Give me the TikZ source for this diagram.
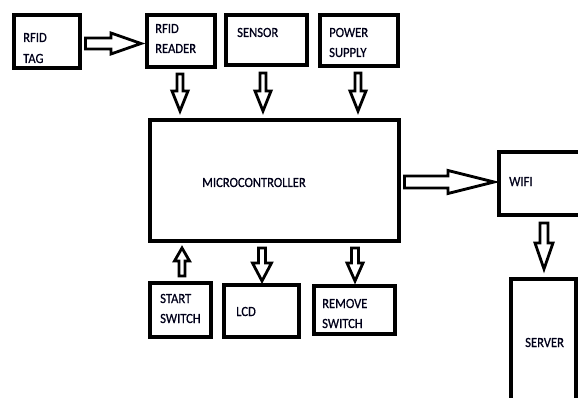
\documentclass[tikz,border=0pt]{standalone}
\usepackage{fontspec}
\setmainfont{Carlito}[FakeStretch=0.9,FakeBold=0.6]
\usetikzlibrary{calc}
\tikzset{
  box/.style n args={2}{draw, line width=4pt, minimum width=#1, minimum height=#2, inner sep=0pt},
  lbl/.style={anchor=base west, inner sep=0pt, text=black!90!blue, font=\fontsize{14}{14}\selectfont},
  barrow/.style n args={3}{line width=2.8pt, line join=miter, fill=white,
    to path={let \p1=(\tikztostart), \p2=(\tikztotarget),
      \n1={veclen(\x2-\x1,\y2-\y1)}, \n2={(\x2-\x1)/\n1}, \n3={(\y2-\y1)/\n1} in
      ({\x1-\n3*#1},{\y1+\n2*#1})
      -- ({\x2-\n2*#3-\n3*#1},{\y2-\n3*#3+\n2*#1})
      -- ({\x2-\n2*#3-\n3*#2},{\y2-\n3*#3+\n2*#2})
      -- (\tikztotarget)
      -- ({\x2-\n2*#3+\n3*#2},{\y2-\n3*#3-\n2*#2})
      -- ({\x2-\n2*#3+\n3*#1},{\y2-\n3*#3-\n2*#1})
      -- ({\x1+\n3*#1},{\y1-\n2*#1}) -- cycle}}
}
\begin{document}
\begin{tikzpicture}[x=1pt,y=-1pt]
\useasboundingbox (0,0) rectangle (578,398);
\clip (0,0) rectangle (578,398);
% boxes
\node[box={66pt}{53pt}] (tag) at (47,41.5) {};
\node[box={68pt}{52pt}] (reader) at (181,41) {};
\node[box={81pt}{50pt}] (sensor) at (266.5,40) {};
\node[box={78pt}{51pt}] (power) at (359,40.5) {};
\node[box={249pt}{121pt}] (mcu) at (274.5,180.5) {};
\node[box={101pt}{63pt}] (wifi) at (549.5,183.5) {};
\node[box={61pt}{54pt}] (start) at (180.5,310) {};
\node[box={75pt}{52pt}] (lcd) at (261.5,311) {};
\node[box={81pt}{48pt}] (remove) at (354.5,310) {};
\node[box={65pt}{141pt}] (server) at (543.5,349.5) {};
% labels
\node[lbl] (tag1) at (23,42) {RFID};
\node[lbl] (tag2) at (23,63) {TAG};
\node[lbl] (reader1) at (155,33) {RFID};
\node[lbl] (reader2) at (155,53) {READER};
\node[lbl] (sensor1) at (237,37) {SENSOR};
\node[lbl] (power1) at (329,37) {POWER};
\node[lbl] (power2) at (329,57) {SUPPLY};
\node[lbl] (mcu1) at (202,187) {MICROCONTROLLER};
\node[lbl] (wifi1) at (509,186) {WIFI};
\node[lbl] (start1) at (160,303) {START};
\node[lbl] (start2) at (160,323) {SWITCH};
\node[lbl] (lcd1) at (236,316) {LCD};
\node[lbl] (remove1) at (322,308) {REMOVE};
\node[lbl] (remove2) at (322,328) {SWITCH};
\node[lbl] (server1) at (525,347) {SERVER};
% block arrows
\draw[barrow={5.5pt}{10.5pt}{30pt}] ($(tag.east)+(3.5,2)$) to ($(reader.west)+(-4,2.5)$);
\draw[barrow={3pt}{8pt}{20pt}] ($(reader.south)+(-1,5)$) to ($(mcu.north -| reader.south)+(-1,-7)$);
\draw[barrow={3pt}{8pt}{20pt}] ($(sensor.south)+(-3.5,6)$) to ($(mcu.north -| sensor.south)+(-3.5,-7)$);
\draw[barrow={3pt}{8pt}{20pt}] ($(power.south)+(-1,5)$) to ($(mcu.north -| power.south)+(-1,-7)$);
\draw[barrow={6pt}{11.5pt}{46pt}] ($(mcu.east)+(3.5,1.5)$) to ($(wifi.west)+(-3,-1.5)$);
\draw[barrow={3pt}{7.5pt}{13pt}] ($(start.north)+(1.5,-5)$) to ($(mcu.south -| start.north)+(1.5,5)$);
\draw[barrow={3.5pt}{9.5pt}{18pt}] ($(mcu.south -| lcd.north)+(0.5,5)$) to ($(lcd.north)+(0.5,-2)$);
\draw[barrow={3.5pt}{8pt}{18pt}] ($(mcu.south -| remove.north)+(0.5,5)$) to ($(remove.north)+(0.5,-3)$);
\draw[barrow={4pt}{9pt}{26pt}] ($(wifi.south -| server.north)+(0.5,6)$) to ($(server.north)+(0.5,-8)$);
\end{tikzpicture}
\end{document}
